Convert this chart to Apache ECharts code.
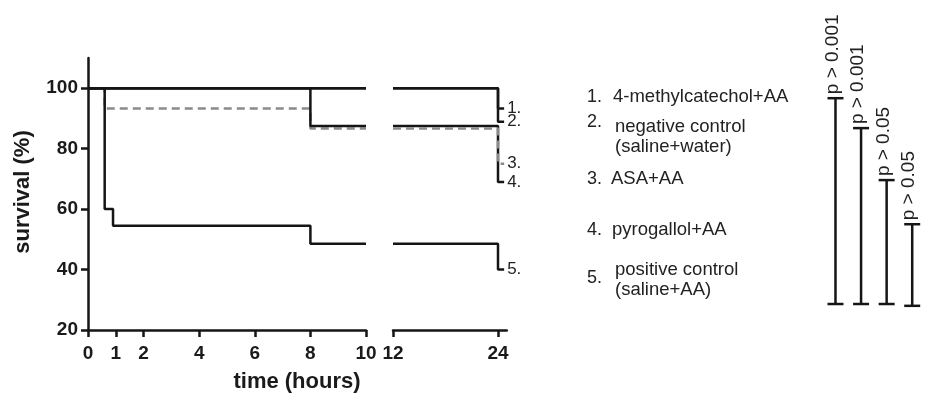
<!DOCTYPE html>
<html>
<head>
<meta charset="utf-8">
<script src="https://cdn.jsdelivr.net/npm/echarts@6/dist/echarts.min.js"></script>
<style>
  html, body { margin: 0; padding: 0; background: #fff; }
  #mainChart { width: 925px; height: 396px; }
</style>
</head>
<body>
<div id="mainChart"></div>
<script>
  // survival data (time in hours, survival in %)
  var methylTimes = [0, 24];
  var methylSurv = [100, 93.3];
  var negTimes = [0, 24];
  var negSurv = [100, 88.9];
  var asaTimes = [0, 0.6, 8, 24];
  var asaSurv = [100, 93.3, 86.7, 75];
  var pyroTimes = [0, 8, 24];
  var pyroSurv = [100, 87.5, 69];
  var posTimes = [0, 0.6, 0.9, 8, 24];
  var posSurv = [100, 60, 54.5, 48.5, 40];

  var endLabels = ['1.', '2.', '3.', '4.', '5.'];
  var xTicksLeft = [0, 1, 2, 4, 6, 8, 10];
  var xTicksRight = [12, 24];
  var yTicks = [20, 40, 60, 80, 100];

  var legendNums = ['1.', '2.', '3.', '4.', '5.'];
  var legendTexts = ['4-methylcatechol+AA', 'negative control\n(saline+water)', 'ASA+AA', 'pyrogallol+AA', 'positive control\n(saline+AA)'];

  var pLabels = ['p > 0.001', 'p > 0.001', 'p > 0.05', 'p > 0.05'];
  var bracketTop = [96.7, 86.8, 69.6, 55.0];
  var bracketBottom = [28.6, 28.6, 28.6, 28.0];

  var tailEnd = 24.7;
  var FONT = 'Liberation Sans, Arial, sans-serif';

  // cut a KM step curve to one piece of the broken time axis
  function piece(times, surv, lo, hi) {
    var v = surv[0];
    for (var i = 0; i < times.length; i++) {
      if (times[i] <= lo) v = surv[i];
    }
    var pts = [[lo, v]];
    for (var j = 0; j < times.length; j++) {
      if (times[j] > lo && times[j] <= hi) pts.push([times[j], surv[j]]);
    }
    var last = pts[pts.length - 1];
    if (last[0] < hi) pts.push([hi, last[1]]);
    return pts;
  }

  var groups = [
    {t: methylTimes, s: methylSurv, dashed: false, label: endLabels[0]},
    {t: negTimes, s: negSurv, dashed: false, label: endLabels[1]},
    {t: asaTimes, s: asaSurv, dashed: true, label: endLabels[2]},
    {t: pyroTimes, s: pyroSurv, dashed: false, label: endLabels[3]},
    {t: posTimes, s: posSurv, dashed: false, label: endLabels[4]}
  ];

  var series = [];
  groups.forEach(function (g) {
    var style = {
      color: g.dashed ? '#8a8a8a' : '#151515',
      width: 2.5,
      type: g.dashed ? [8, 5] : 'solid'
    };
    series.push({
      type: 'line', step: 'end', xAxisIndex: 0, yAxisIndex: 0,
      data: piece(g.t, g.s, 0, 10), showSymbol: false, lineStyle: style,
      silent: true, animation: false, clip: false, z: g.dashed ? 1 : 2
    });
    series.push({
      type: 'line', step: 'end', xAxisIndex: 1, yAxisIndex: 1,
      data: piece(g.t, g.s, 12, tailEnd), showSymbol: false, lineStyle: style,
      silent: true, animation: false, clip: false, z: g.dashed ? 3 : 2,
      endLabel: {
        show: true, formatter: g.label, distance: 3,
        color: '#222', fontSize: 17, fontFamily: FONT
      }
    });
  });

  series.push({
    type: 'custom', xAxisIndex: 2, yAxisIndex: 2, silent: true, animation: false,
    data: bracketTop.map(function (v, i) { return [i, v, bracketBottom[i]]; }),
    renderItem: function (params, api) {
      var top = api.coord([api.value(0), api.value(1)]);
      var bot = api.coord([api.value(0), api.value(2)]);
      var cx = top[0], half = 8;
      var ls = {stroke: '#151515', lineWidth: 2.5};
      return {
        type: 'group',
        children: [
          {type: 'line', shape: {x1: cx, y1: top[1], x2: cx, y2: bot[1]}, style: ls},
          {type: 'line', shape: {x1: cx - half, y1: top[1], x2: cx + half, y2: top[1]}, style: ls},
          {type: 'line', shape: {x1: cx - half, y1: bot[1], x2: cx + half, y2: bot[1]}, style: ls},
          {type: 'text', x: cx - 3, y: top[1] - 4, rotation: Math.PI / 2,
            style: {text: pLabels[params.dataIndex], x: 0, y: 0, align: 'left', verticalAlign: 'middle',
              fill: '#222', fontSize: 19, fontFamily: FONT}}
        ]
      };
    }
  });

  var axisLine = {show: true, lineStyle: {color: '#151515', width: 2.5}};
  var axisTick = {show: true, length: 7, lineStyle: {color: '#151515', width: 2.5}};
  var tickFont = {color: '#1a1a1a', fontSize: 19, fontWeight: 'bold', fontFamily: FONT};

  var graphic = [
    {type: 'text', x: 297, y: 382, style: {text: 'time (hours)', align: 'center', verticalAlign: 'middle',
      fill: '#1a1a1a', fontSize: 22, fontWeight: 'bold', fontFamily: FONT}},
    {type: 'text', x: 23, y: 192, rotation: Math.PI / 2, style: {text: 'survival (%)', align: 'center',
      verticalAlign: 'middle', fill: '#1a1a1a', fontSize: 22, fontWeight: 'bold', fontFamily: FONT}}
  ];
  var legendY = [97, 122, 179, 230, 278];
  var legendTextY = [97, 137, 179, 230, 280];
  var legendTextX = [613, 615, 611, 612, 615];
  legendNums.forEach(function (n, i) {
    graphic.push({type: 'text', x: 587, y: legendY[i], style: {text: n, verticalAlign: 'middle',
      fill: '#222', fontSize: 18, fontFamily: FONT}});
    graphic.push({type: 'text', x: legendTextX[i], y: legendTextY[i], style: {text: legendTexts[i],
      verticalAlign: 'middle', fill: '#222', fontSize: 18.5, lineHeight: 20, fontFamily: FONT}});
  });

  var myChart = echarts.init(document.getElementById('mainChart'));
  myChart.setOption({
    backgroundColor: '#fff',
    animation: false,
    grid: [
      {left: 88, top: 58, width: 278, height: 272},
      {left: 393, top: 58, width: 113.75, height: 272},
      {left: 822.7, top: 58, width: 107, height: 272}
    ],
    xAxis: [
      {gridIndex: 0, type: 'value', min: 0, max: 10, axisLine: axisLine, splitLine: {show: false},
        axisTick: Object.assign({customValues: xTicksLeft}, axisTick),
        axisLabel: Object.assign({customValues: xTicksLeft, margin: 14}, tickFont)},
      {gridIndex: 1, type: 'value', min: 12, max: 25, axisLine: axisLine, splitLine: {show: false},
        axisTick: Object.assign({customValues: xTicksRight}, axisTick),
        axisLabel: Object.assign({customValues: xTicksRight, margin: 14}, tickFont)},
      {gridIndex: 2, type: 'category', data: pLabels, show: false}
    ],
    yAxis: [
      {gridIndex: 0, type: 'value', min: 20, max: 110, axisLine: axisLine, splitLine: {show: false},
        axisTick: Object.assign({customValues: yTicks}, axisTick),
        axisLabel: Object.assign({customValues: yTicks, margin: 10}, tickFont)},
      {gridIndex: 1, type: 'value', min: 20, max: 110, show: false},
      {gridIndex: 2, type: 'value', min: 20, max: 110, show: false}
    ],
    graphic: graphic,
    series: series
  });
</script>
</body>
</html>
